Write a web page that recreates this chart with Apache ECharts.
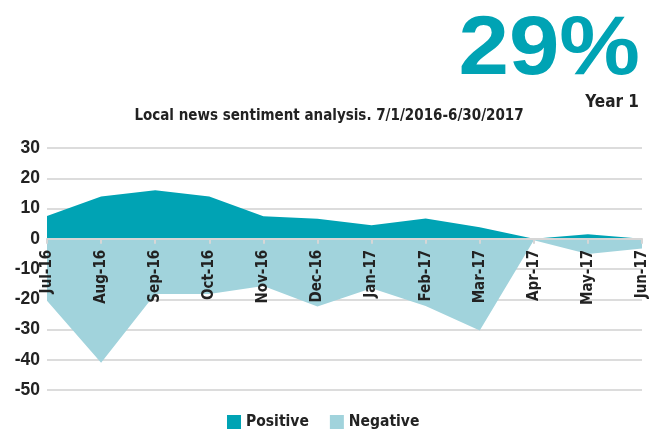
<!DOCTYPE html>
<html>
<head>
<meta charset="utf-8">
<script src="https://cdn.jsdelivr.net/npm/echarts@6/dist/echarts.min.js"></script>
<style>
  html, body { margin: 0; padding: 0; background: #fff; }
  #chart { width: 658px; height: 436px; }
</style>
</head>
<body>
<div id="chart"></div>
<script>
// Monthly sentiment counts, July 2016 - June 2017
const months = ['Jul-16', 'Aug-16', 'Sep-16', 'Oct-16', 'Nov-16', 'Dec-16',
                'Jan-17', 'Feb-17', 'Mar-17', 'Apr-17', 'May-17', 'Jun-17'];
const positive = [7.5, 14, 16, 14, 7.4, 6.6, 4.5, 6.7, 3.8, 0, 1.5, 0];
const negative = [-20.5, -41, -18.3, -18.3, -15.6, -22.4, -16.4, -22.2, -30.3, -0.5, -5, -3.2];
const yTicks = [30, 20, 10, 0, -10, -20, -30, -40, -50];

const headline = '29%';
const subhead = 'Year 1';
const chartTitle = 'Local news sentiment analysis. 7/1/2016-6/30/2017';

const FONT = '"DejaVu Sans Condensed", "Liberation Sans", Arial, sans-serif';
const FONT_WIDE = '"Liberation Sans", Arial, sans-serif';
const TEAL = '#00a3b4';
const LIGHT = '#a1d3dc';

// plot area geometry
const GRID_TOP = 148, GRID_BOTTOM = 46, CHART_H = 436;
const Y_MIN = -50, Y_MAX = 30;
const plotH = CHART_H - GRID_TOP - GRID_BOTTOM;
// lift the category axis from the bottom edge up to the zero line
const zeroOffset = -plotH * (0 - Y_MIN) / (Y_MAX - Y_MIN);

const chart = echarts.init(document.getElementById('chart'));
chart.setOption({
  animation: false,
  textStyle: { fontFamily: FONT },
  // big headline figure, slightly widened
  graphic: [{
    type: 'text',
    x: 640, y: 9,
    scaleX: 1.08,
    style: {
      text: headline,
      align: 'right', verticalAlign: 'top',
      font: 'bold 84px "Liberation Sans", Arial, sans-serif',
      fill: TEAL
    }
  }],
  title: [
    {
      text: subhead, right: 14, top: 89,
      textStyle: { fontSize: 17, fontWeight: 'bold', color: '#222', fontFamily: FONT }
    },
    {
      text: chartTitle, left: 'center', top: 104,
      textStyle: { fontSize: 15, fontWeight: 'bold', color: '#222', fontFamily: FONT }
    }
  ],
  legend: {
    bottom: 1, left: 222,
    itemWidth: 14, itemHeight: 14, itemGap: 21,
    icon: 'rect',
    textStyle: { fontSize: 15.5, fontWeight: 'bold', color: '#222', fontFamily: FONT },
    data: ['Positive', 'Negative']
  },
  grid: { left: 47, right: 16, top: GRID_TOP, bottom: GRID_BOTTOM },
  xAxis: {
    type: 'category',
    data: months,
    boundaryGap: false,
    position: 'bottom',
    offset: zeroOffset,
    z: 10,
    axisLine: { onZero: false, lineStyle: { color: '#d6d6d6', width: 2 } },
    axisTick: { show: true, alignWithLabel: true, length: 5, lineStyle: { color: '#d6d6d6', width: 2 } },
    axisLabel: {
      rotate: 90, interval: 0, margin: 11,
      fontSize: 15, fontWeight: 'bold', color: '#222', fontFamily: FONT
    }
  },
  yAxis: {
    type: 'value',
    min: Y_MIN, max: Y_MAX, interval: 10,
    axisLine: { show: false },
    axisTick: { show: false },
    splitLine: { lineStyle: { color: '#dcdcdc', width: 2 } },
    axisLabel: {
      margin: 7, fontSize: 17.5, fontWeight: 'bold', color: '#222', fontFamily: FONT_WIDE,
      formatter: v => (yTicks.includes(v) ? String(v) : '')
    }
  },
  series: [
    {
      name: 'Negative', type: 'line', data: negative,
      symbol: 'none', lineStyle: { width: 0 },
      itemStyle: { color: LIGHT },
      areaStyle: { color: LIGHT, opacity: 1, origin: 0 },
      z: 2
    },
    {
      name: 'Positive', type: 'line', data: positive,
      symbol: 'none', lineStyle: { width: 0 },
      itemStyle: { color: TEAL },
      areaStyle: { color: TEAL, opacity: 1, origin: 0 },
      z: 3
    }
  ]
});
</script>
</body>
</html>
